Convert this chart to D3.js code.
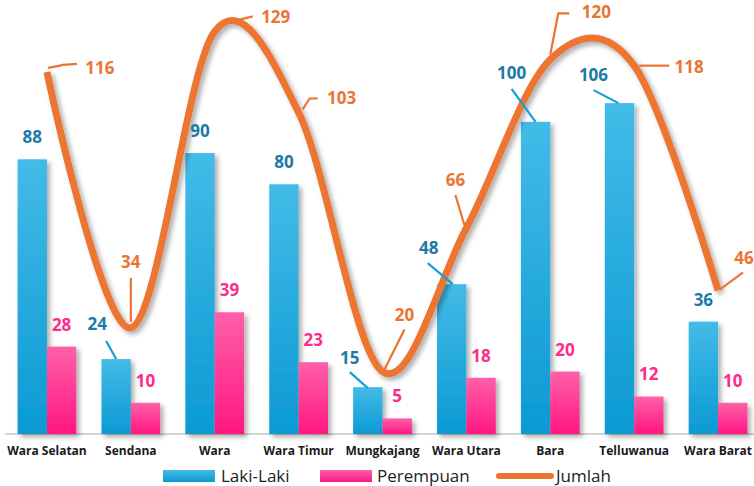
<!DOCTYPE html>
<html><head><meta charset="utf-8">
<script src="https://cdn.jsdelivr.net/npm/d3@7/dist/d3.min.js"></script>
<style>
html,body{margin:0;padding:0;background:#fff;}
svg{display:block;font-family:"Open Sans",sans-serif;}
</style></head>
<body><svg id="chart" width="754" height="486"></svg>
<script>
const categories = ["Wara Selatan","Sendana","Wara","Wara Timur","Mungkajang","Wara Utara","Bara","Telluwanua","Wara Barat"];
const lakiLaki   = [88,24,90,80,15,48,100,106,36];
const perempuan  = [28,10,39,23,5,18,20,12,10];
const jumlah     = [116,34,129,103,20,66,120,118,46];
const seriesNames = ["Laki-Laki","Perempuan","Jumlah"];

// label layout (pixel offsets of label centre from default position), leaders as relative polylines
const blueLabelShift = [[0,0],[-19,-13],[0,0],[0,0],[-18,-7],[-23,-14],[-24,-27],[-26,-6],[0,0]];
const blueLeaders = [null,[[-10,-18],[0,0]],null,null,[[-18,-15],[0,1]],[[-24,-21],[1,0]],[[-24,-33],[0,0]],[[-26,-13],[-1,0]],null];
const orangeLabelShift = [[53,-4],[0,-66],[61,-14],[43,-14],[22,-57],[-11,-48],[46,-47],[55,1],[26,-32]];
const orangeLeaders = [
  [[1,-4],[12,-6],[16,-7],[30,-8]],
  [[0,-6],[0,-50]],
  [[22,-11],[38,-15]],
  [[4,-3],[11,-14],[19,-14]],
  [[2,-2],[22,-42]],
  [[-2,-3],[-11,-33]],
  [[0,-5],[8,-46],[19,-46]],
  [[5,0],[35,0]],
  [[2,-1],[25,-18]]
];

const svg = d3.select("#chart");
const defs = svg.append("defs");
const gB = defs.append("linearGradient").attr("id","gBlue").attr("x1",0).attr("y1",0).attr("x2",0).attr("y2",1);
gB.append("stop").attr("offset","0%").attr("stop-color","#43bbe8");
gB.append("stop").attr("offset","100%").attr("stop-color","#0c9ad3");
const gP = defs.append("linearGradient").attr("id","gPink").attr("x1",0).attr("y1",0).attr("x2",0).attr("y2",1);
gP.append("stop").attr("offset","0%").attr("stop-color","#ff5fa9");
gP.append("stop").attr("offset","100%").attr("stop-color","#ff1782");
const f = defs.append("filter").attr("id","shadow").attr("x","-30%").attr("y","-30%").attr("width","160%").attr("height","160%");
f.append("feDropShadow").attr("dx",3).attr("dy",3).attr("stdDeviation",2.5).attr("flood-color","#000").attr("flood-opacity",0.33);

const baseY = 434;
const x = d3.scaleBand().domain(categories).range([5,760]).paddingInner(0.3).paddingOuter(0.15);
const x1 = d3.scaleBand().domain(["L","P"]).range([0,x.bandwidth()]);
const y = d3.scaleLinear().domain([0,140]).range([baseY,-3]);

// axis
const axis = d3.axisBottom(x).tickSize(0).tickPadding(12);
const ax = svg.append("g").attr("transform",`translate(0,${baseY})`).call(axis);
ax.select(".domain").attr("stroke","#d4d4d4").attr("stroke-width",2).attr("d","M5,0H754");
ax.selectAll("text").attr("font-size",12).attr("font-weight","bold").attr("fill","#1a1a1a").attr("font-family","'Open Sans',sans-serif");

// bars
const bars = svg.append("g").attr("filter","url(#shadow)");
categories.forEach((c,i)=>{
  bars.append("rect").attr("x",x(c)+x1("L")).attr("y",y(lakiLaki[i])).attr("width",x1.bandwidth()).attr("height",baseY-y(lakiLaki[i])).attr("fill","url(#gBlue)");
  bars.append("rect").attr("x",x(c)+x1("P")).attr("y",y(perempuan[i])).attr("width",x1.bandwidth()).attr("height",baseY-y(perempuan[i])).attr("fill","url(#gPink)");
});

// line
const cx = c => x(c)+x.bandwidth()/2;
const line = d3.line().x((d,i)=>cx(categories[i])).y(d=>y(d)).curve(d3.curveCardinal.tension(0));
svg.append("path").datum(jumlah).attr("d",line).attr("fill","none").attr("stroke","#ec7432").attr("stroke-width",7).attr("stroke-linejoin","round").attr("filter","url(#shadow)");

// labels
const lab = svg.append("g").attr("font-weight","bold").attr("font-size",17).attr("text-anchor","middle");
categories.forEach((c,i)=>{
  const bx = x(c)+x1("L")+x1.bandwidth()/2, by = y(lakiLaki[i]);
  const [bdx,bdy] = blueLabelShift[i];
  if(blueLeaders[i]){
    lab.append("path").attr("d",d3.line()(blueLeaders[i].map(p=>[bx+p[0],by+p[1]]))).attr("stroke","#129fd8").attr("stroke-width",2.2).attr("fill","none");
  }
  lab.append("text").attr("x",bx+bdx).attr("y",by-22+bdy).attr("dy","0.35em").attr("fill","#1b7aa8").text(lakiLaki[i]);
  const px = x(c)+x1("P")+x1.bandwidth()/2, py = y(perempuan[i]);
  lab.append("text").attr("x",px).attr("y",py-22).attr("dy","0.35em").attr("fill","#fc2b8c").text(perempuan[i]);
  const ox = cx(c), oy = y(jumlah[i]);
  const [odx,ody] = orangeLabelShift[i];
  lab.append("path").attr("d",d3.line()(orangeLeaders[i].map(p=>[ox+p[0],oy+p[1]]))).attr("stroke","#ec7432").attr("stroke-width",2.2).attr("fill","none");
  lab.append("text").attr("x",ox+odx).attr("y",oy+ody).attr("dy","0.35em").attr("fill","#ec7432").text(jumlah[i]);
});

// legend
const lg = svg.append("g").attr("font-size",17).attr("fill","#222");
lg.append("rect").attr("x",163).attr("y",470).attr("width",52).attr("height",12).attr("fill","url(#gBlue)");
lg.append("text").attr("x",221).attr("y",476).attr("dy","0.35em").text(seriesNames[0]);
lg.append("rect").attr("x",320).attr("y",470).attr("width",52).attr("height",12).attr("fill","url(#gPink)");
lg.append("text").attr("x",377).attr("y",476).attr("dy","0.35em").text(seriesNames[1]);
lg.append("line").attr("x1",499).attr("x2",551).attr("y1",476).attr("y2",476).attr("stroke","#ec7432").attr("stroke-width",6).attr("stroke-linecap","round");
lg.append("text").attr("x",556).attr("y",476).attr("dy","0.35em").text(seriesNames[2]);
</script></body></html>
